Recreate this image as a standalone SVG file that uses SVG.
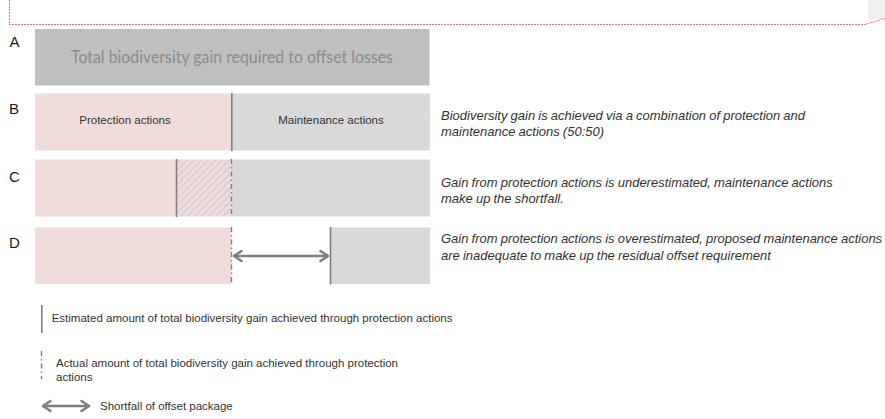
<svg xmlns="http://www.w3.org/2000/svg" width="885" height="419" viewBox="0 0 885 419">
<defs>
<style>
.lbl{font-family:"Liberation Sans",Arial,sans-serif;font-size:15px;fill:#1a1a1a}
.inbox{font-family:"Liberation Sans",Arial,sans-serif;font-size:11.5px;fill:#333}
.desc{font-family:"Liberation Sans",Arial,sans-serif;font-size:13px;font-style:italic;fill:#333;word-spacing:-0.5px}
.leg{font-family:"Liberation Sans",Arial,sans-serif;font-size:11.5px;fill:#333}
.pink{fill:#f2dcdb}
.grey{fill:#d9d9d9}
.est{stroke:#7f7f7f;stroke-width:1.6;fill:none}
.act{stroke:#7f7f7f;stroke-width:1.4;fill:none;stroke-dasharray:5 3 1.5 3}
.arr{stroke:#7f7f7f;stroke-width:2.6;fill:none;marker-start:url(#head);marker-end:url(#head)}
</style>
<pattern id="hatch" patternUnits="userSpaceOnUse" width="5" height="5" patternTransform="rotate(45)">
<rect width="5" height="5" fill="#ecdcdc"/>
<line x1="0" y1="0" x2="0" y2="5" stroke="#d2c8c8" stroke-width="2"/>
</pattern>
<marker id="head" viewBox="-11 -7 13 14" markerWidth="13" markerHeight="14" refX="0" refY="0" orient="auto-start-reverse" markerUnits="userSpaceOnUse">
<path d="M-8,-5 L-0.5,0 L-8,5" fill="none" stroke="#7f7f7f" stroke-width="2.6" stroke-linecap="round" stroke-linejoin="round"/>
</marker>
</defs>
<rect x="0" y="0" width="885" height="419" fill="#ffffff"/>

<g id="frame">
<rect x="868" y="0" width="17" height="19" fill="#efefef"/>
<path d="M9.5,0 V24.5 H865 L885,18.5" fill="none" stroke="#e57373" stroke-width="1" stroke-dasharray="2 1"/>
</g>

<g id="rowA">
<text class="lbl" x="9.5" y="46.5">A</text>
<rect x="35" y="29" width="394.5" height="56.5" fill="#bfbfbf"/>
<text x="71" y="63.3" font-family="Lato,'Open Sans',sans-serif" font-size="17.5" fill="#8c8c8c" textLength="322" lengthAdjust="spacingAndGlyphs">Total biodiversity gain required to offset losses</text>
</g>

<g id="rowB">
<text class="lbl" x="9" y="114">B</text>
<rect class="pink" x="35" y="93.5" width="196.5" height="57"/>
<rect class="grey" x="231.5" y="93.5" width="198.5" height="57"/>
<text class="inbox" x="125" y="124.3" text-anchor="middle">Protection actions</text>
<text class="inbox" x="331" y="124.3" text-anchor="middle">Maintenance actions</text>
<text class="desc" x="441" y="119.5">Biodiversity gain is achieved via a combination of protection and</text>
<text class="desc" x="441" y="136">maintenance actions (50:50)</text>
</g>

<g id="rowC">
<text class="lbl" x="9" y="181.5">C</text>
<rect class="pink" x="35" y="159.5" width="141.5" height="57"/>
<rect x="176.5" y="159.5" width="55" height="57" fill="url(#hatch)"/>
<rect class="grey" x="231.5" y="159.5" width="198.5" height="57"/>
<text class="desc" x="441" y="186.5">Gain from protection actions is underestimated, maintenance actions</text>
<text class="desc" x="441" y="203">make up the shortfall.</text>
</g>

<g id="rowD">
<text class="lbl" x="9" y="248">D</text>
<rect class="pink" x="35" y="227.5" width="196.5" height="56.5"/>
<rect class="grey" x="330" y="227.5" width="100" height="56.5"/>
<text class="desc" x="441" y="243">Gain from protection actions is overestimated, proposed maintenance actions</text>
<text class="desc" x="441" y="259.5">are inadequate to make up the residual offset requirement</text>
</g>

<g id="connectors">
<line class="est" x1="231.8" y1="93" x2="231.8" y2="151"/>
<line class="est" x1="176.5" y1="159" x2="176.5" y2="217"/>
<line class="act" x1="231.5" y1="159" x2="231.5" y2="217"/>
<line class="act" x1="231.5" y1="227" x2="231.5" y2="285"/>
<line class="est" x1="330.5" y1="227" x2="330.5" y2="284.5"/>
<line class="arr" x1="233.5" y1="256" x2="328.5" y2="256"/>
</g>

<g id="legend">
<line class="est" x1="41.8" y1="305" x2="41.8" y2="333"/>
<text class="leg" x="51.7" y="322">Estimated amount of total biodiversity gain achieved through protection actions</text>
<line class="act" x1="41.5" y1="351" x2="41.5" y2="379"/>
<text class="leg" x="56" y="367.3">Actual amount of total biodiversity gain achieved through protection</text>
<text class="leg" x="56" y="380.7">actions</text>
<line class="arr" x1="42.5" y1="406" x2="89.5" y2="406"/>
<text class="leg" x="100" y="410">Shortfall of offset package</text>
</g>
</svg>
